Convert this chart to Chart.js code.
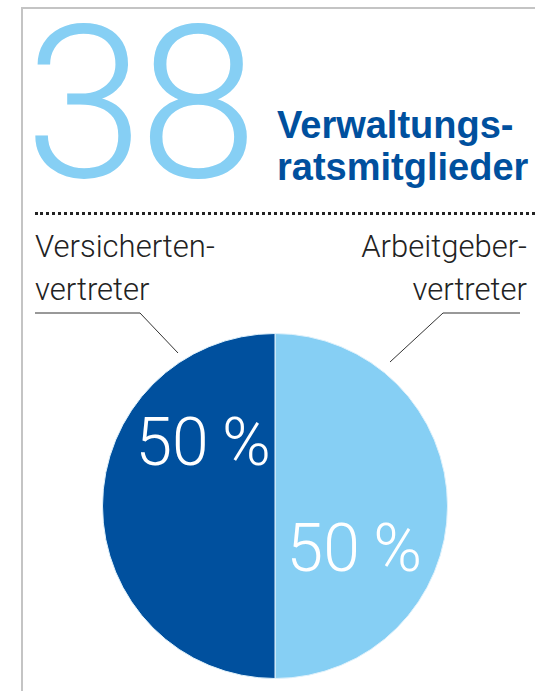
<!DOCTYPE html>
<html>
<head>
<meta charset="utf-8">
<script src="https://cdn.jsdelivr.net/npm/chart.js"></script>
<style>
  html, body { margin: 0; padding: 0; background: #fff; }
  body { width: 535px; height: 691px; position: relative; overflow: hidden; font-family: Roboto, "Liberation Sans", sans-serif; }
  .frame { position: absolute; left: 21px; top: 7px; right: -5px; bottom: -5px; border-left: 2px solid #c4c4c4; border-top: 2px solid #c4c4c4; }
  .big { position: absolute; left: 25px; top: -3px; font-size: 214px; font-weight: 300; color: #86cff4; letter-spacing: -5px; line-height: 1; }
  .title { position: absolute; left: 277px; top: 104px; font-family: "Liberation Sans", Arial, sans-serif; font-weight: bold; font-size: 38px; line-height: 42px; color: #00509e; }
  .dots { position: absolute; left: 35px; right: 0; top: 212px; border-top: 3px dotted #222; }
  .lbl { position: absolute; top: 225px; font-size: 31px; font-weight: 300; line-height: 43px; color: #222; }
  .lbl.l { left: 35px; }
  .lbl.r { right: 8px; text-align: right; }
  #pie { position: absolute; left: 0; top: 300px; }
  svg { position: absolute; left: 0; top: 0; }
</style>
</head>
<body>
<div class="frame"></div>
<div class="big">38</div>
<div class="title">Verwaltungs-<br>ratsmitglieder</div>
<div class="dots"></div>
<div class="lbl l">Versicherten-<br>vertreter</div>
<div class="lbl r">Arbeitgeber-<br>vertreter</div>
<svg width="535" height="691">
  <polyline points="35,313 140,313 178,353" fill="none" stroke="#333" stroke-width="1"/>
  <polyline points="520,313 443,313 390,362" fill="none" stroke="#333" stroke-width="1"/>
</svg>
<canvas id="pie" width="535" height="391"></canvas>
<script>
// 38 Verwaltungsratsmitglieder, split half/half
const groups = ["Arbeitgebervertreter", "Versichertenvertreter"];
const members = [19, 19];
const sliceColors = ["#86cff4", "#00509e"];
// where the percent label sits inside each slice (fraction of the slice, radius fraction)
const labelSpot = [[0.676, 0.54], [0.716, 0.535]];

const percentLabels = {
    id: "percentLabels",
    afterDatasetsDraw(chart) {
        const ctx = chart.ctx;
        const meta = chart.getDatasetMeta(0);
        const total = members.reduce((a, b) => a + b, 0);
        ctx.save();
        ctx.fillStyle = "#ffffff";
        ctx.font = "300 66px Roboto, sans-serif";
        ctx.textAlign = "center";
        ctx.textBaseline = "middle";
        meta.data.forEach((arc, i) => {
            const p = arc.getProps(["x", "y", "startAngle", "endAngle", "outerRadius"], true);
            const a = p.startAngle + (p.endAngle - p.startAngle) * labelSpot[i][0];
            const r = p.outerRadius * labelSpot[i][1];
            const pct = Math.round(members[i] / total * 100);
            ctx.fillText(pct + "\u2009%", p.x + Math.cos(a) * r, p.y + Math.sin(a) * r);
        });
        ctx.restore();
    }
};

new Chart(document.getElementById("pie"), {
    type: "pie",
    data: {
        labels: groups,
        datasets: [{
            data: members,
            backgroundColor: sliceColors,
            borderColor: "#dff1fb",
            borderWidth: 1
        }]
    },
    options: {
        responsive: false,
        animation: false,
        layout: { padding: { left: 102, right: 87, top: 33, bottom: 12 } },
        plugins: {
            legend: { display: false },
            tooltip: { enabled: false }
        }
    },
    plugins: [percentLabels]
});
</script>
</body>
</html>
